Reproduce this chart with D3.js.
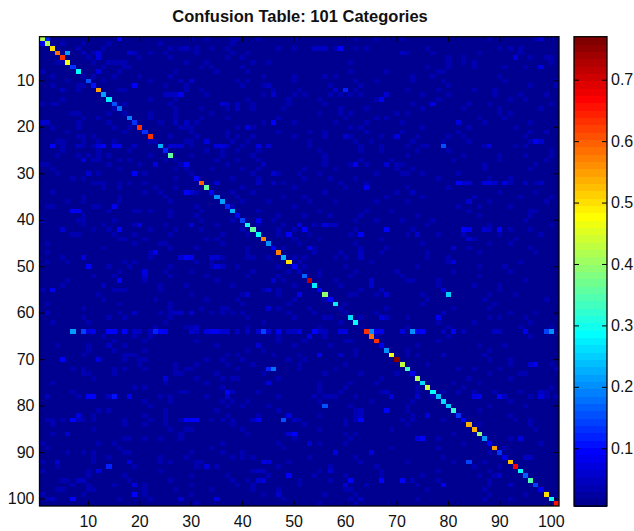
<!DOCTYPE html>
<html><head><meta charset="utf-8">
<style>html,body{margin:0;padding:0;background:#fff}svg{display:block}text{font-family:"Liberation Sans",Arial,sans-serif;fill:#111}</style>
<script src="https://cdn.jsdelivr.net/npm/d3@7/dist/d3.min.js"></script>
</head><body><div id="c"></div>
<script>
const titleText = "Confusion Table: 101 Categories";
const tickVals = [10,20,30,40,50,60,70,80,90,100];
const barTicks = [0.1,0.2,0.3,0.4,0.5,0.6,0.7];
const colorLimits = [0.006,0.77];
const baseValue = 0.008;
const diagonal = [.42,.42,.5,.58,.63,.47,.13,.29,.04,.16,.11,.55,.22,.27,.16,.18,.04,.19,.13,.63,.13,.63,.04,.23,.12,.36,.03,.04,.03,.04,
 .1,.6,.36,.1,.2,.21,.12,.23,.1,.14,.3,.36,.29,.57,.2,.1,.57,.23,.5,.1,.05,.17,.72,.28,.1,.39,.1,.27,.03,.04,
 .26,.29,.02,.63,.58,.63,.08,.2,.47,.77,.43,.33,.08,.42,.26,.44,.29,.24,.26,.25,.32,.13,.09,.54,.54,.39,.2,.1,.55,.13,
 .07,.52,.67,.29,.17,.35,.14,.08,.5,.3,.66];
// visible off-diagonal confusions: row, column, value
const offCells = [
[1,2,.12],[2,1,.1],[1,16,.1],[4,6,.22],[4,12,.07],[5,12,.07],[2,9,.04],[4,9,.05],[4,18,.06],[4,19,.05],[3,29,.05],[3,28,.04],[3,26,.03],
[8,12,.07],[11,19,.1],[10,30,.06],[13,28,.08],[13,27,.05],[13,26,.05],[13,25,.05],[12,5,.05],[15,36,.06],[15,37,.05],[15,39,.05],[16,39,.05],[16,37,.04],
[13,46,.06],[11,45,.05],[19,46,.09],[19,1,.06],[19,2,.06],[20,41,.07],[19,27,.05],[19,29,.05],[23,33,.07],
[24,3,.09],[24,12,.07],[24,13,.1],[24,15,.08],[24,16,.08],[24,19,.05],[24,26,.06],[24,27,.06],[24,28,.06],[24,35,.07],[24,36,.07],[24,37,.05],[24,43,.07],[24,45,.06],[24,8,.05],[24,40,.04],
[27,9,.07],[28,23,.07],[28,29,.1],[28,28,.05],[28,44,.05],[30,19,.09],[30,10,.06],[30,46,.06],[32,43,.05],[32,46,.05],[32,35,.06],
[34,29,.09],[34,30,.06],[37,15,.08],[38,7,.08],[38,8,.08],[38,19,.04],[38,20,.04],[40,43,.08],[41,51,.07],[42,16,.09],[42,5,.06],[41,20,.07],[41,30,.07],
[43,49,.09],[47,23,.08],[48,9,.07],[48,29,.09],[48,30,.08],[48,28,.06],[48,34,.06],[48,35,.06],[50,10,.09],[50,35,.07],[50,36,.05],
[51,21,.07],[52,21,.06],[53,16,.1],[55,3,.08],[54,13,.05],[56,41,.06],[55,45,.06],[53,46,.06],[59,45,.06],[60,19,.05],[60,27,.05],[60,28,.05],[60,30,.06],[60,2,.05],
[64,7,.22],[64,9,.14],[64,10,.07],[64,11,.08],[64,14,.09],[64,15,.09],[64,17,.1],[64,19,.05],[64,20,.05],[64,22,.05],[64,23,.12],[64,24,.09],[64,25,.08],[64,30,.06],[64,31,.05],[64,33,.07],[64,34,.08],[64,35,.08],[64,36,.06],[64,37,.06],[64,39,.05],[64,41,.05],[64,43,.06],[64,44,.14],[64,45,.06],[64,47,.08],[64,49,.05],[64,50,.05],
[63,31,.05],[67,43,.06],[67,14,.05],[70,5,.09],[70,12,.07],[72,45,.12],[72,46,.18],[74,25,.07],[75,45,.07],[77,37,.1],[77,38,.05],[78,10,.1],[78,11,.1],[78,15,.11],[78,18,.08],[78,2,.05],[78,14,.05],[78,37,.06],
[82,8,.07],[82,49,.07],[83,7,.1],[83,8,.05],[83,29,.09],[83,30,.1],[83,31,.1],[83,43,.08],[83,42,.05],[83,48,.16],[83,50,.05],[86,50,.1],[86,49,.06],[86,6,.06],
[92,44,.07],[92,45,.07],[92,4,.06],[92,18,.07],[93,14,.12],[93,33,.07],[94,12,.07],[94,44,.05],[94,43,.05],[95,49,.1],[96,8,.05],[96,9,.05],[96,43,.06],[96,44,.07],[97,19,.07],[99,19,.1],[100,7,.09],[100,3,.05],[100,28,.06],[100,35,.07],[99,47,.06],
[3,59,.1],[3,54,.05],[3,55,.05],[3,56,.05],[12,60,.12],[12,58,.06],[14,67,.08],[13,68,.06],[15,77,.07],[19,82,.07],[22,60,.06],[22,70,.07],[24,79,.16],[24,88,.07],[23,97,.08],[23,98,.06],[28,62,.08],[28,68,.06],[33,64,.08],
[32,82,.09],[32,83,.06],[32,84,.06],[32,87,.07],[32,88,.07],[32,89,.06],[32,91,.07],[32,95,.05],[32,98,.05],[34,73,.05],[36,84,.06],[5,93,.07],[7,98,.07],[4,71,.05],[1,98,.06],
[41,51,.07],[42,52,.1],[43,49,.09],[41,56,.07],[41,57,.05],[41,58,.05],[42,68,.09],[43,63,.09],[42,83,.09],[42,84,.08],[42,90,.1],[42,87,.06],[42,88,.05],[44,84,.06],[43,83,.05],[46,53,.08],[46,81,.06],[49,81,.07],[48,63,.05],[47,63,.05],[43,74,.06],
[53,65,.06],[54,65,.06],[56,51,.08],[56,80,.25],[55,79,.07],[56,68,.06],[55,67,.05],[61,78,.08],[60,79,.05],[61,67,.07],[61,68,.05],
[64,51,.07],[64,54,.09],[65,53,.07],[64,55,.05],[64,56,.05],[64,59,.07],[64,60,.07],[64,66,.08],[64,65,.2],[64,67,.08],[64,71,.07],[64,73,.2],[64,74,.08],[64,75,.09],[64,81,.1],[64,79,.05],[64,83,.05],[64,89,.05],[64,90,.05],[64,95,.08],[64,99,.14],[64,100,.2],
[69,55,.08],[69,59,.05],[69,79,.05],[71,97,.08],[71,96,.06],[78,69,.07],[77,68,.05],[78,86,.08],[78,85,.07],[78,90,.09],[78,91,.05],[78,98,.07],[77,98,.05],[78,74,.06],[80,56,.15],[81,68,.09],[83,48,.16],[82,49,.07],[83,63,.09],[81,63,.05],[82,63,.05],[82,76,.07],[86,50,.1],[87,75,.1],[87,74,.07],[87,94,.07],[88,53,.06],[90,58,.07],[90,65,.07],[92,84,.14],[91,95,.05],[91,96,.05],[94,57,.06],[95,49,.1],[96,61,.1],[96,67,.1],[96,71,.1],[97,79,.08],[97,60,.06],[95,90,.06],[97,92,.05],[100,63,.05]
];
// faint confusions read row by row: row number, then its columns
const faintRows = [
[1,30,33,38,39,43,50,62,66,71,88,97,100],[2,5,14,24,38],[3,8,13,31,34,37,47,50,58,62,64,76,90,92,94],[4,11,22,25,31,38,41,72,77,86,94],[5,10,20,26,37,40,80,83,96,99,100],
[6,4,5,11,14,15,16,17,29,33,42,45,61,80,83,85,100],[7,13,17,18,32,34,40,76,80,85,91,95],[8,1,16,27,35,41,61,68,78,79],[9,3,11,15,20,26,44,50,56,58,73,77,90],[10,6,13,22,28,39,41,50,62,66,73,79,91,101],
[11,3,8,9,11,25,29,40,44,57,63,80,96,101],[12,8,16,17,29,32,46,51,62,72,78,85,89],[13,33,44,50,52,57,59,61,63,75,80,89,94,99],[14,5,14,22,27,41,49,55,66,78,92,95],[15,1,3,4,15,17,26,42,49,56,73,84,88,100],
[16,15,27,32,42,48,59,64,75,83,90,98],[17,7,8,14,17,22,27,34,55,59,61,70,72,90,92],[18,9,12,22,27,32,37,47,60,66,68,86,91],[19,8,14,24,31,44,50,58,64,71,87,96],[20,3,8,15,18,28,29,30,39,42,61,63,75,84,93],
[21,6,17,30,37,47,53,56,64,71,82,96,99],[22,8,9,11,26,31,37,39,42,50,56,61,67,74,80,83,95],[23,4,5,9,12,15,22,29,30,33,38,41,53,62,65,73,79,84,96],[24,5,9,11,19,30,53,63,67,72,75,76,87,93,95],[25,5,12,18,33,36,39,43,55,63,67,74,80,100],
[26,4,8,10,12,14,22,30,36,42,56,72,83,90,95,100],[27,11,12,16,18,25,35,39,43,56,63,69,81,90,99],[28,1,2,14,20,37,44,56,61,64,70,71,87,97],[29,3,16,27,34,40,43,52,58,70,73,87,96],[30,4,12,21,42,47,51,55,66,71,72,75,82],
[31,7,9,27,38,43,52,57,62,78,88,92],[32,11,12,13,16,18,21,48,59,64,92,97],[33,13,16,23,27,40,50,60,72,80],[34,3,21,24,31,38,42,56,70,90,97],[35,9,16,25,39,48,52,68,75,85,94,100],
[36,6,9,16,26,40,45,53,58,66,72,88,99],[37,2,3,11,12,31,38,50,82,86,92],[38,14,22,26,32,43,55,64,69,84,96,97],[39,9,26,31,47,52,57,63,74,86,96],[40,1,8,9,15,32,38,46,62,66,71,77,95],
[41,9,13,19,25,35,43,48,54,76,88,100],[42,11,14,22,27,32,40,47,50,62,73,92,96],[43,7,8,15,19,26,36,41,47,53,61,72,78,90,98],[44,16,17,21,33,35,50,55,67,85,93],[45,2,19,24,25,36,51,62,75,88,92],
[46,13,26,31,41,48,54,63,68,84,96],[47,2,22,41,54,59,67,76,86,97],[48,5,22,36,41,42,45,50,52,58,60,63,76,80],[49,2,6,17,19,31,34,51,65,80,94],[50,14,18,26,34,39,47,52,60,74,86,91],
[51,16,25,30,42,49,55,62,70,81,92],[52,11,15,26,33,41,47,55,61,71,86],[53,6,21,35,48,58,72,73,78,95],[54,5,24,29,38,50,59,78,85,90],[55,1,15,16,17,24,44,47,55,63,90],
[56,12,30,40,47,61,62,66,75,88,93],[57,23,13,33,39,50,56,76,87,99],[58,2,16,26,40,49,60,75,89],[59,9,32,36,37,26,47,53,68,81,88],[60,16,24,26,34,36,38,40,49,54,66,92,97],
[61,9,17,14,26,41,50,56,57,63,72,88,90,95],[62,3,10,25,44,59,78,85,96],[63,23,29,30,41,55,72,80,94,100],[65,13,19,22,47,56,66,80,96],[66,15,21,31,47,52,60,61,78],
[67,4,10,17,35,50,57,74,86,91],[68,10,15,21,41,44,62,72,88],[69,9,17,18,19,37,39,46,51,62,72,74,87],[70,17,20,21,33,36,40,49,52,88,92],[71,20,27,31,37,42,51,60,76,92,100],
[72,7,9,15,17,21,27,29,30,39,51,58,82,85,90,101],[73,9,10,15,27,28,35,44,56,63,70,88,94,95],[74,11,31,36,38,39,47,67,84,92],[75,3,25,33,55,61,66,81,86],[76,19,21,36,55,60,74,83,100],
[77,7,28,29,43,55,59,67,74,79,82,85,89,94,99],[78,8,24,26,33,47,54,56,57,58,62,77,96,99,101],[79,21,26,36,38,41,55,65,73,92],[80,22,37,40,45,61,72,88,95],[81,12,14,25,35,47,62,72,86],
[82,11,21,25,37,43,55,62,73,92],[83,2,3,5,9,11,17,22,25,28,34,36,38,51,60,62,71,73,79,93,96],[84,3,17,21,25,38,52,60,72,86,96],[85,11,26,29,30,40,55,69,97],[86,3,28,41,60,62,81],[87,17,18,21,24,28,50,61,78,92],
[88,1,12,15,36,47,55,60,83,98],[89,2,16,34,48,69,78,91],[90,6,9,11,17,18,30,36,40,88],[91,11,14,24,29,38,40,42,53,62,79],[92,1,11,24,26,31,32,49,63,72,81,87],
[93,4,19,31,35,47,57,66,85,90],[94,1,10,24,42,55,67,78,88],[95,10,17,30,37,45,54,60,67,75,86,89],[96,5,6,18,26,38,41,51,57,73,78,88],[97,7,10,15,21,30,39,42,51,64,74,88],
[98,4,5,10,11,21,27,34,42,47,60,61,76,87],[99,1,9,21,30,44,56,62,88,95],[100,2,16,22,48,61,74,87,92],[101,31,55,62]
];

const W=634,H=531;
const plot={l:39.5,r:559,t:36.7,b:506};
const bar={l:574,r:607,t:36.7,b:506};
const ids=d3.range(1,102);
const matrix=ids.map(()=>ids.map(()=>baseValue));
faintRows.forEach(r=>r.slice(1).forEach(c=>{matrix[r[0]-1][c-1]=0.03;}));
offCells.forEach(([r,c,v])=>{matrix[r-1][c-1]=v;});
diagonal.forEach((v,i)=>{matrix[i][i]=v;});

const jetStops=d3.scaleLinear().domain([0,.125,.375,.625,.875,1])
 .range(["rgb(0,0,128)","rgb(0,0,255)","rgb(0,255,255)","rgb(255,255,0)","rgb(255,0,0)","rgb(128,0,0)"]).clamp(true);
const levels=64;
const levelScale=d3.scaleQuantize().domain(colorLimits).range(d3.range(1,levels+1));
const colorOf=v=>jetStops(levelScale(v)/levels);

const svg=d3.select("#c").append("svg").attr("width",W).attr("height",H);
const x=d3.scaleBand().domain(ids).range([plot.l,plot.r]);
const y=d3.scaleBand().domain(ids).range([plot.t,plot.b]);
const cells=ids.flatMap(r=>ids.map(c=>({r,c,v:matrix[r-1][c-1]})));
svg.append("g").attr("shape-rendering","crispEdges").selectAll("rect").data(cells).join("rect")
 .attr("x",d=>x(d.c)).attr("y",d=>y(d.r)).attr("width",x.bandwidth()+.3).attr("height",y.bandwidth()+.3)
 .attr("fill",d=>colorOf(d.v));

function frame(g,box){
 g.append("rect").attr("x",box.l).attr("y",box.t).attr("width",box.r-box.l).attr("height",box.b-box.t)
  .attr("fill","none").attr("stroke","#000").attr("stroke-width",1.3);
}
const fs=16;
function style(g,noText){
 g.select(".domain").remove();
 g.selectAll("line").attr("stroke","#000").attr("stroke-width",1);
 g.selectAll("text").attr("font-size",fs);
 if(noText) g.selectAll("text").remove();
}
const inner=5;
svg.append("g").attr("transform",`translate(0,${plot.b})`)
 .call(d3.axisBottom(x).tickValues(tickVals).tickSizeInner(-inner).tickSizeOuter(0).tickPadding(10)).call(style);
svg.append("g").attr("transform",`translate(0,${plot.t})`)
 .call(d3.axisTop(x).tickValues(tickVals).tickSizeInner(-inner).tickSizeOuter(0)).call(g=>style(g,true));
svg.append("g").attr("transform",`translate(${plot.l},0)`)
 .call(d3.axisLeft(y).tickValues(tickVals).tickSizeInner(-inner).tickSizeOuter(0).tickPadding(5)).call(style);
svg.append("g").attr("transform",`translate(${plot.r},0)`)
 .call(d3.axisRight(y).tickValues(tickVals).tickSizeInner(-inner).tickSizeOuter(0)).call(g=>style(g,true));
frame(svg,plot);

// colour bar
const cy=d3.scaleLinear().domain(colorLimits).range([bar.b,bar.t]);
const barLevels=d3.range(1,levels+1);
const step=(colorLimits[1]-colorLimits[0])/levels;
svg.append("g").attr("shape-rendering","crispEdges").selectAll("rect").data(barLevels).join("rect")
 .attr("x",bar.l).attr("width",bar.r-bar.l)
 .attr("y",d=>cy(colorLimits[0]+d*step)).attr("height",d=>cy(colorLimits[0]+(d-1)*step)-cy(colorLimits[0]+d*step)+.5)
 .attr("fill",d=>jetStops(d/levels));
svg.append("g").attr("transform",`translate(${bar.r},0)`)
 .call(d3.axisRight(cy).tickValues(barTicks).tickFormat(d3.format(".1f")).tickSizeInner(-inner).tickSizeOuter(0).tickPadding(4)).call(style);
svg.append("g").attr("transform",`translate(${bar.l},0)`)
 .call(d3.axisLeft(cy).tickValues(barTicks).tickSizeInner(-inner).tickSizeOuter(0)).call(g=>style(g,true));
frame(svg,bar);

svg.append("text").attr("x",300).attr("y",22).attr("text-anchor","middle")
 .attr("font-size",16.5).attr("font-weight","bold").text(titleText);
</script></body></html>
